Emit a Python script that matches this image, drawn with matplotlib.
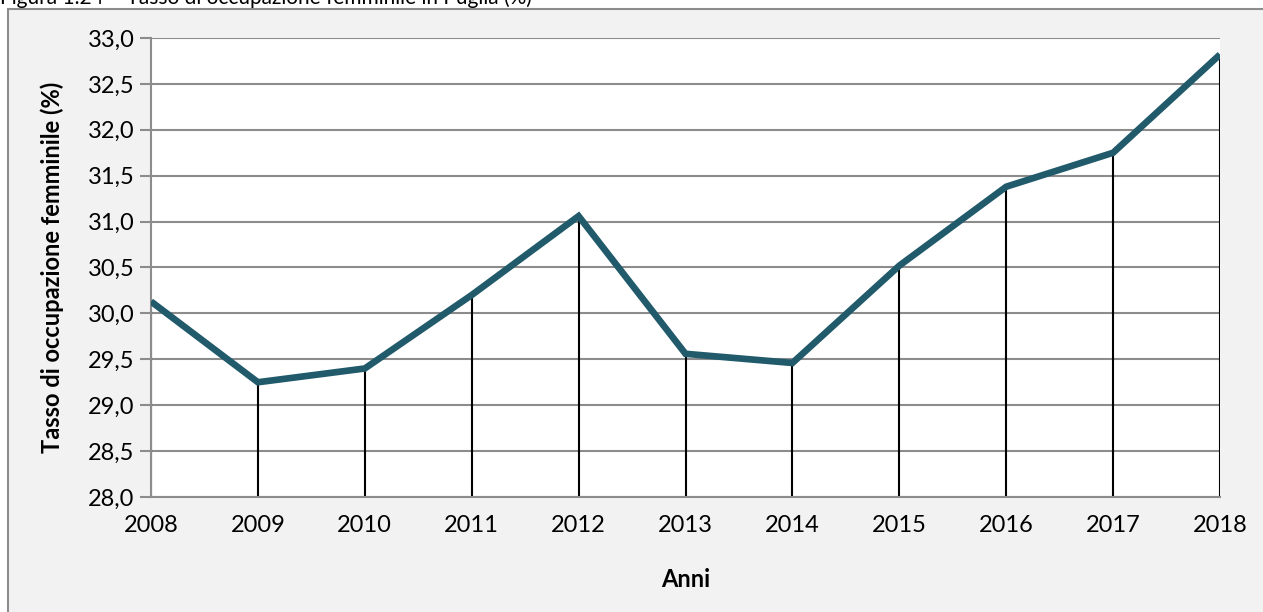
import matplotlib.pyplot as plt
from matplotlib.patches import Rectangle
from matplotlib.ticker import FuncFormatter, MultipleLocator

plt.rcParams['font.family'] = ['Lato', 'DejaVu Sans']

anni = [2008, 2009, 2010, 2011, 2012, 2013, 2014, 2015, 2016, 2017, 2018]
tasso = [30.13, 29.25, 29.40, 30.20, 31.06, 29.56, 29.46, 30.52, 31.38, 31.75, 32.82]

titolo = "Figura 1.24 \u2013 Tasso di occupazione femminile in Puglia (%)"

fig = plt.figure(figsize=(12.63, 6.12), dpi=100)
fig.patch.set_facecolor("white")

# cornice grigia del grafico
fig.patches.append(Rectangle((8 / 1263, -0.05), 1.1, 1 - 9 / 612 + 0.05,
                             transform=fig.transFigure, facecolor="#f2f2f2",
                             edgecolor="#8c8c8c", linewidth=1.5, zorder=-5))
fig.text(0.0, 1.0 + 2 / 612, titolo, fontsize=15, ha="left", va="center",
         color="black")

ax = fig.add_axes([151 / 1263, 1 - 497 / 612, (1220 - 151) / 1263, (497 - 38) / 612])
ax.set_zorder(1)
ax.set_facecolor("white")

ax.vlines(anni, 28, tasso, color="black", linewidth=1.5, zorder=2)
ax.plot(anni, tasso, color="#215a6a", linewidth=4.8, solid_joinstyle="miter",
        solid_capstyle="butt", zorder=3)

ax.set_xlim(2008, 2018)
ax.set_ylim(28, 33)
ax.set_xticks(anni)
ax.yaxis.set_major_locator(MultipleLocator(0.5))
ax.yaxis.set_major_formatter(FuncFormatter(lambda v, p: f"{v:.1f}".replace(".", ",")))
ax.grid(axis="y", color="#8c8c8c", linewidth=1.5, zorder=1)
ax.set_axisbelow(True)

for s in ["top", "right"]:
    ax.spines[s].set_visible(False)
ax.spines["left"].set_color("#8c8c8c")
ax.spines["bottom"].set_color("#8c8c8c")
ax.spines["left"].set_linewidth(1.5)
ax.spines["bottom"].set_linewidth(1.5)

ax.tick_params(axis="y", length=8, width=1.5, color="#8c8c8c", labelsize=17, pad=4)
ax.tick_params(axis="x", length=0, labelsize=17, pad=13)

ax.set_xlabel("Anni", fontsize=17, fontweight="bold", labelpad=23)
ax.set_ylabel("Tasso di occupazione femminile (%)", fontsize=17,
              fontweight="bold", labelpad=17)

fig.savefig("out.png", dpi=100)
